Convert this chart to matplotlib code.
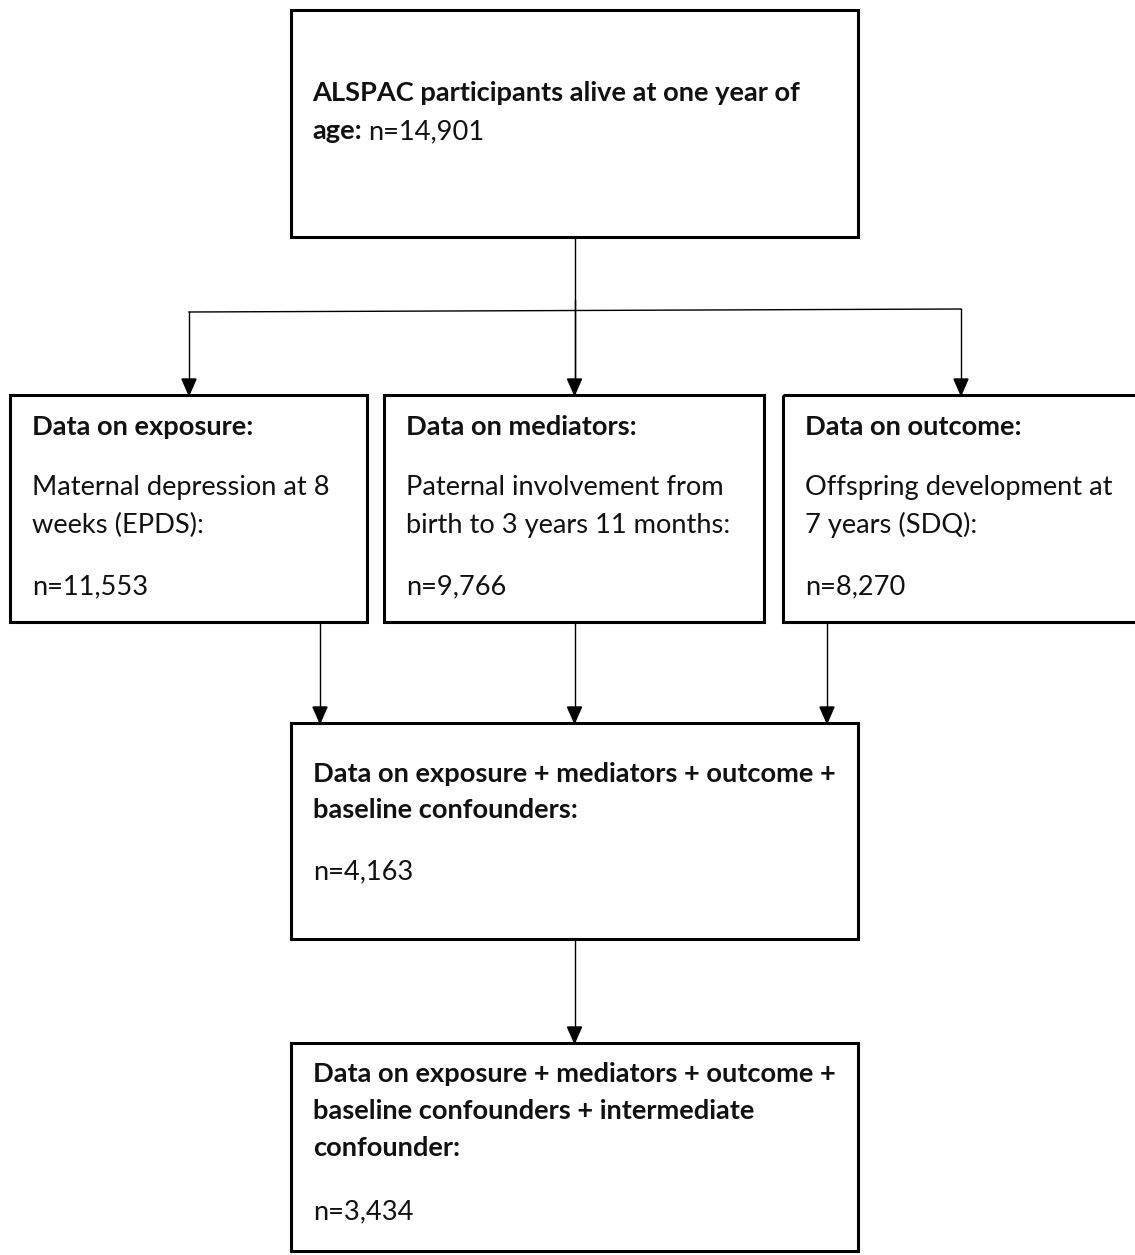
import matplotlib
matplotlib.use("Agg")
import matplotlib.pyplot as plt
from matplotlib.patches import Rectangle, Polygon

# ---- data ----
top_title = "ALSPAC participants alive at one year of"
top_bold2 = "age:"
top_n = "n=14,901"

row_titles = ["Data on exposure:", "Data on mediators:", "Data on outcome:"]
row_desc = [["Maternal depression at 8", "weeks (EPDS):"],
            ["Paternal involvement from", "birth to 3 years 11 months:"],
            ["Offspring development at", "7 years (SDQ):"]]
row_n = ["n=11,553", "n=9,766", "n=8,270"]

mid_title = ["Data on exposure + mediators + outcome +", "baseline confounders:"]
mid_n = "n=4,163"

bot_title = ["Data on exposure + mediators + outcome +",
             "baseline confounders + intermediate", "confounder:"]
bot_n = "n=3,434"

# ---- layout ----
W, H = 1135, 1255
fig = plt.figure(figsize=(W / 100, H / 100), dpi=100)
ax = fig.add_axes([0, 0, 1, 1])
ax.set_xlim(0, W)
ax.set_ylim(H, 0)
ax.axis("off")

FONT = "Lato"
FS = 19.6
BOX_LW = 2.2
LINE_LW = 1.0


def box(x0, y0, x1, y1):
    ax.add_patch(Rectangle((x0, y0), x1 - x0, y1 - y0, fill=False,
                           edgecolor="black", lw=BOX_LW, zorder=2))


def arrow(x, y0, y1):
    ax.plot([x, x], [y0, y1 - 14], color="black", lw=LINE_LW, zorder=1)
    ax.add_patch(Polygon([[x - 7, y1 - 16], [x + 7, y1 - 16], [x, y1]],
                         closed=True, color="black", zorder=3))


def txt(x, y, s, bold=False):
    return ax.text(x, y, s, fontsize=FS, family=FONT,
                   fontweight="bold" if bold else "normal",
                   va="baseline", ha="left", color="#111111")


# top box
box(291, 10, 858, 237)
txt(312, 101, top_title, bold=True)
t_age = txt(312, 139, top_bold2, bold=True)

# row boxes
row_x = [(10, 367), (384, 764), (783, 1145)]
for (x0, x1), title, desc, n in zip(row_x, row_titles, row_desc, row_n):
    box(x0, 395, x1, 622)
    tx = x0 + 22
    txt(tx, 435, title, bold=True)
    txt(tx, 495, desc[0])
    txt(tx, 533, desc[1])
    txt(tx, 594, n)

# connectors top -> row
cx = 574.5
ax.plot([cx, cx], [237, 380], color="black", lw=LINE_LW)
arrow(cx, 300, 395)
ax.plot([189, 961], [312, 309], color="black", lw=LINE_LW)
arrow(189, 312, 395)
arrow(961, 309, 395)

# row -> middle
for x in [320, cx, 827]:
    arrow(x, 622, 723)

# middle box
box(291, 723, 858, 939)
txt(313, 782, mid_title[0], bold=True)
txt(313, 818, mid_title[1], bold=True)
txt(313, 879, mid_n)

arrow(cx, 939, 1043)

# bottom box
box(291, 1043, 858, 1251)
txt(313, 1082, bot_title[0], bold=True)
txt(313, 1119, bot_title[1], bold=True)
txt(313, 1156, bot_title[2], bold=True)
txt(313, 1219, bot_n)

# place n after bold "age:"
fig.canvas.draw()
bb = t_age.get_window_extent()
inv = ax.transData.inverted()
xend = inv.transform((bb.x1, bb.y0))[0]
txt(xend + 6, 139, top_n)

fig.savefig("out.png", dpi=100, facecolor="white")
